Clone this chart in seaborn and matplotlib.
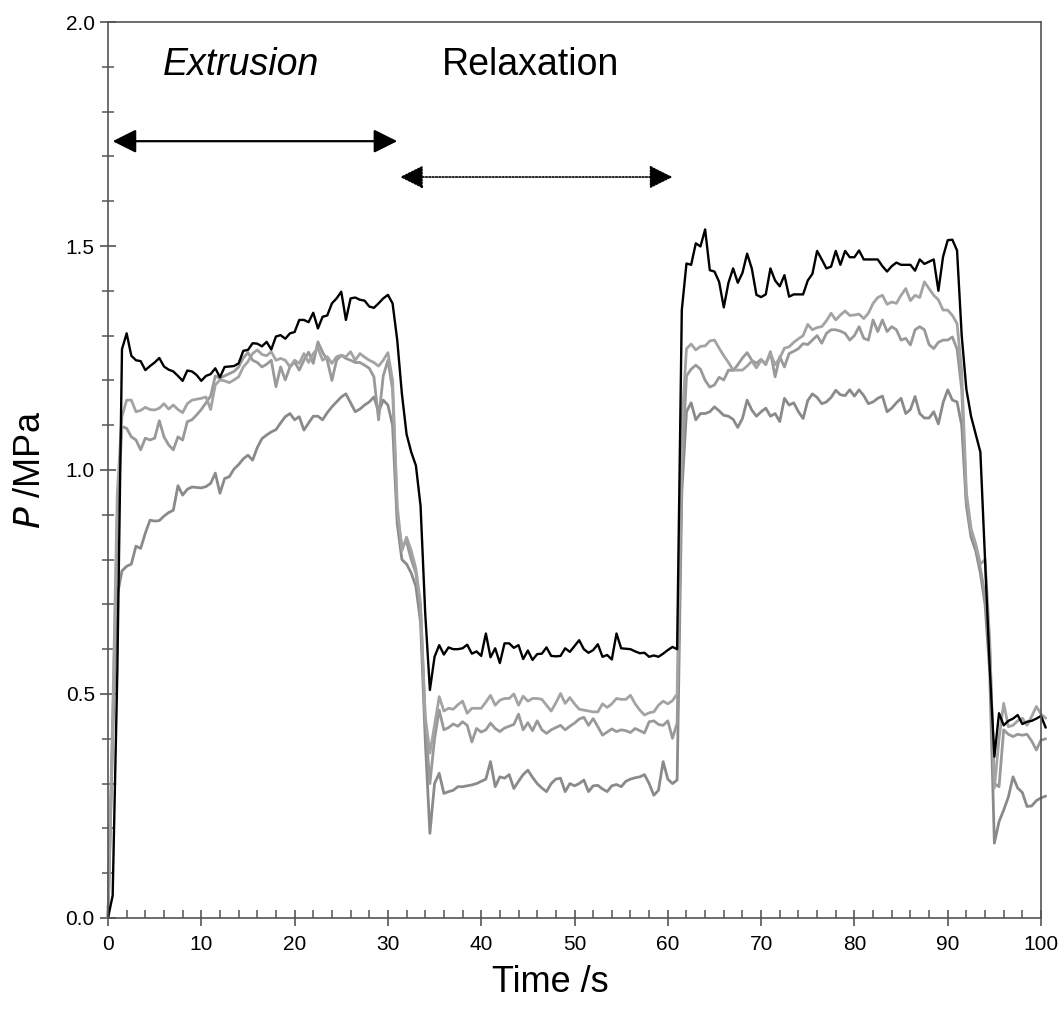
import numpy as np
import pandas as pd
import matplotlib
matplotlib.use('Agg')
import matplotlib.pyplot as plt
import seaborn as sns
from matplotlib.ticker import MultipleLocator, FormatStrFormatter

# time axis, sampled every 0.5 s
time_s = np.arange(202) * 0.5

# black trace
p_black = [
    0.00, 0.05, 0.55, 1.27, 1.305, 1.255, 1.245, 1.243, 1.223, 1.232, 1.24, 1.25, 1.231, 1.224, 1.22, 1.21, 1.199, 1.222, 1.22, 1.212,
    1.199, 1.21, 1.214, 1.227, 1.207, 1.23, 1.231, 1.232, 1.238, 1.266, 1.268, 1.283, 1.282, 1.276, 1.286, 1.269, 1.298, 1.301, 1.293, 1.305,
    1.308, 1.335, 1.335, 1.33, 1.351, 1.316, 1.342, 1.345, 1.372, 1.383, 1.398, 1.335, 1.383, 1.385, 1.38, 1.378, 1.365, 1.362, 1.372, 1.383,
    1.391, 1.372, 1.29, 1.17, 1.08, 1.04, 1.01, 0.92, 0.68, 0.509, 0.583, 0.609, 0.588, 0.604, 0.6, 0.6, 0.602, 0.61, 0.59, 0.595,
    0.585, 0.635, 0.582, 0.602, 0.569, 0.613, 0.613, 0.603, 0.609, 0.578, 0.597, 0.576, 0.589, 0.59, 0.604, 0.585, 0.584, 0.585, 0.602, 0.594,
    0.607, 0.62, 0.6, 0.592, 0.598, 0.611, 0.583, 0.587, 0.577, 0.635, 0.602, 0.601, 0.6, 0.595, 0.591, 0.592, 0.583, 0.586, 0.583, 0.59,
    0.598, 0.605, 0.6, 1.357, 1.461, 1.458, 1.506, 1.499, 1.537, 1.446, 1.443, 1.42, 1.363, 1.418, 1.45, 1.418, 1.44, 1.483, 1.45, 1.391,
    1.386, 1.392, 1.45, 1.423, 1.41, 1.435, 1.387, 1.392, 1.392, 1.392, 1.423, 1.438, 1.489, 1.47, 1.45, 1.454, 1.489, 1.458, 1.489, 1.475,
    1.475, 1.49, 1.47, 1.47, 1.47, 1.47, 1.455, 1.443, 1.455, 1.463, 1.458, 1.458, 1.458, 1.445, 1.47, 1.46, 1.465, 1.47, 1.40, 1.476,
    1.513, 1.514, 1.49, 1.30, 1.18, 1.12, 1.08, 1.04, 0.80, 0.56, 0.36, 0.457, 0.43, 0.44, 0.445, 0.453, 0.433, 0.438, 0.44, 0.445,
    0.451, 0.425,
]

# light grey trace (upper grey)
p_grey_a = [
    0.0, 0.45, 0.95, 1.12, 1.156, 1.156, 1.13, 1.133, 1.14, 1.135, 1.134, 1.138, 1.148, 1.136, 1.145, 1.135, 1.128, 1.148, 1.156, 1.158,
    1.16, 1.163, 1.135, 1.19, 1.201, 1.199, 1.195, 1.201, 1.208, 1.23, 1.242, 1.26, 1.268, 1.258, 1.255, 1.264, 1.245, 1.249, 1.245, 1.23,
    1.245, 1.238, 1.26, 1.24, 1.26, 1.272, 1.245, 1.253, 1.238, 1.253, 1.256, 1.253, 1.264, 1.245, 1.26, 1.252, 1.245, 1.24, 1.232, 1.245,
    1.262, 1.20, 0.92, 0.82, 0.85, 0.82, 0.78, 0.70, 0.45, 0.368, 0.43, 0.494, 0.462, 0.468, 0.466, 0.476, 0.484, 0.457, 0.468, 0.468,
    0.468, 0.482, 0.497, 0.475, 0.486, 0.49, 0.49, 0.50, 0.475, 0.495, 0.484, 0.49, 0.49, 0.488, 0.475, 0.462, 0.48, 0.501, 0.479, 0.492,
    0.478, 0.466, 0.464, 0.462, 0.46, 0.46, 0.478, 0.47, 0.478, 0.49, 0.488, 0.488, 0.497, 0.478, 0.464, 0.453, 0.458, 0.46, 0.475, 0.484,
    0.478, 0.485, 0.50, 1.10, 1.271, 1.281, 1.268, 1.276, 1.277, 1.288, 1.29, 1.272, 1.255, 1.24, 1.223, 1.223, 1.223, 1.232, 1.243, 1.228,
    1.245, 1.238, 1.26, 1.235, 1.25, 1.272, 1.275, 1.285, 1.293, 1.30, 1.325, 1.313, 1.318, 1.32, 1.333, 1.35, 1.335, 1.346, 1.355, 1.345,
    1.346, 1.348, 1.338, 1.35, 1.372, 1.385, 1.39, 1.37, 1.375, 1.372, 1.39, 1.405, 1.378, 1.39, 1.385, 1.42, 1.405, 1.39, 1.38, 1.357,
    1.357, 1.345, 1.327, 1.22, 0.95, 0.87, 0.835, 0.79, 0.80, 0.62, 0.29, 0.40, 0.479, 0.427, 0.43, 0.44, 0.446, 0.43, 0.45, 0.472,
    0.455, 0.446,
]

# mid grey trace
p_grey_b = [
    0.0, 0.42, 0.90, 1.097, 1.093, 1.074, 1.067, 1.045, 1.071, 1.067, 1.071, 1.11, 1.074, 1.056, 1.045, 1.074, 1.067, 1.108, 1.112, 1.123,
    1.135, 1.15, 1.165, 1.21, 1.205, 1.21, 1.215, 1.22, 1.23, 1.25, 1.262, 1.245, 1.24, 1.23, 1.236, 1.245, 1.186, 1.23, 1.201, 1.23,
    1.241, 1.223, 1.245, 1.263, 1.238, 1.286, 1.263, 1.245, 1.20, 1.245, 1.256, 1.249, 1.245, 1.24, 1.24, 1.234, 1.227, 1.208, 1.112, 1.21,
    1.245, 1.18, 0.90, 0.83, 0.84, 0.80, 0.77, 0.69, 0.44, 0.30, 0.40, 0.464, 0.42, 0.425, 0.433, 0.428, 0.438, 0.43, 0.393, 0.423,
    0.415, 0.42, 0.435, 0.423, 0.416, 0.424, 0.428, 0.432, 0.455, 0.42, 0.436, 0.418, 0.44, 0.42, 0.412, 0.42, 0.425, 0.43, 0.42, 0.428,
    0.435, 0.444, 0.448, 0.43, 0.445, 0.427, 0.408, 0.415, 0.422, 0.416, 0.42, 0.418, 0.414, 0.423, 0.418, 0.413, 0.438, 0.44, 0.432, 0.43,
    0.44, 0.401, 0.435, 1.00, 1.21, 1.225, 1.234, 1.225, 1.20, 1.185, 1.19, 1.207, 1.201, 1.223, 1.222, 1.235, 1.25, 1.262, 1.245, 1.238,
    1.247, 1.235, 1.264, 1.208, 1.253, 1.23, 1.26, 1.265, 1.271, 1.282, 1.28, 1.29, 1.30, 1.283, 1.305, 1.313, 1.313, 1.31, 1.305, 1.29,
    1.30, 1.32, 1.294, 1.29, 1.335, 1.309, 1.335, 1.309, 1.32, 1.313, 1.29, 1.294, 1.279, 1.313, 1.32, 1.313, 1.28, 1.271, 1.285, 1.29,
    1.29, 1.297, 1.27, 1.18, 0.93, 0.86, 0.83, 0.78, 0.72, 0.60, 0.30, 0.293, 0.42, 0.41, 0.405, 0.41, 0.408, 0.41, 0.395, 0.375,
    0.397, 0.40,
]

# darker grey trace (lowest)
p_grey_c = [
    0.0, 0.40, 0.72, 0.775, 0.785, 0.79, 0.83, 0.825, 0.859, 0.888, 0.886, 0.887, 0.897, 0.905, 0.91, 0.965, 0.944, 0.957, 0.962, 0.961,
    0.96, 0.963, 0.97, 0.993, 0.948, 0.981, 0.985, 1.002, 1.012, 1.025, 1.033, 1.022, 1.05, 1.07, 1.078, 1.085, 1.09, 1.105, 1.119, 1.126,
    1.112, 1.119, 1.089, 1.105, 1.12, 1.12, 1.112, 1.128, 1.141, 1.152, 1.163, 1.17, 1.15, 1.13, 1.136, 1.145, 1.152, 1.163, 1.13, 1.156,
    1.145, 1.10, 0.88, 0.80, 0.79, 0.77, 0.74, 0.66, 0.40, 0.189, 0.30, 0.323, 0.278, 0.282, 0.285, 0.293, 0.293, 0.295, 0.297, 0.30,
    0.305, 0.31, 0.349, 0.293, 0.315, 0.312, 0.32, 0.289, 0.305, 0.32, 0.33, 0.314, 0.30, 0.29, 0.282, 0.30, 0.31, 0.312, 0.282, 0.30,
    0.295, 0.30, 0.308, 0.282, 0.295, 0.296, 0.288, 0.282, 0.295, 0.298, 0.293, 0.305, 0.31, 0.313, 0.315, 0.32, 0.30, 0.274, 0.285, 0.349,
    0.31, 0.30, 0.308, 0.95, 1.13, 1.15, 1.112, 1.126, 1.126, 1.13, 1.141, 1.132, 1.122, 1.12, 1.113, 1.095, 1.115, 1.156, 1.134, 1.12,
    1.13, 1.138, 1.12, 1.126, 1.108, 1.16, 1.145, 1.15, 1.13, 1.115, 1.155, 1.17, 1.162, 1.148, 1.152, 1.162, 1.178, 1.168, 1.166, 1.179,
    1.165, 1.179, 1.166, 1.148, 1.152, 1.16, 1.165, 1.13, 1.138, 1.15, 1.16, 1.126, 1.135, 1.164, 1.126, 1.116, 1.116, 1.13, 1.103, 1.15,
    1.179, 1.156, 1.152, 1.10, 0.92, 0.85, 0.82, 0.77, 0.70, 0.55, 0.167, 0.215, 0.241, 0.27, 0.315, 0.29, 0.28, 0.249, 0.25, 0.262,
    0.268, 0.272,
]

series = [
    ('c', p_grey_c, '#8a8a8a', 2.0),
    ('b', p_grey_b, '#999999', 2.0),
    ('a', p_grey_a, '#a3a3a3', 2.0),
    ('black', p_black, '#000000', 1.7),
]

sns.set_style('ticks')
plt.rcParams['font.family'] = ['Liberation Sans', 'DejaVu Sans']

fig = plt.figure(figsize=(10.64, 10.15), dpi=100)
ax = fig.add_axes([0.1015, 0.0956, 0.8769, 0.8827])

for name, vals, col, lw in series:
    df = pd.DataFrame({'time': time_s, 'P': vals})
    sns.lineplot(data=df, x='time', y='P', color=col, linewidth=lw,
                 estimator=None, sort=False, ax=ax)

for ln in ax.lines:
    ln.set_clip_on(False)

ax.set_xlim(0, 100)
ax.set_ylim(0, 2.0)
ax.xaxis.set_major_locator(MultipleLocator(10))
ax.xaxis.set_minor_locator(MultipleLocator(2))
ax.yaxis.set_major_locator(MultipleLocator(0.5))
ax.yaxis.set_minor_locator(MultipleLocator(0.1))
ax.yaxis.set_major_formatter(FormatStrFormatter('%.1f'))

for s in ax.spines.values():
    s.set_color('#555555')
    s.set_linewidth(1.2)

ax.tick_params(which='major', direction='inout', length=12, width=1.2,
               color='#555555', labelsize=15, labelcolor='black')
ax.tick_params(axis='x', which='major', pad=6)
ax.tick_params(axis='x', which='minor', direction='in', length=6, width=1.1, color='#555555')
ax.tick_params(axis='y', which='minor', direction='inout', length=9, width=1.1, color='#555555')

ax.set_xlabel('Time /s', fontsize=26, color='black')
ax.set_ylabel('$\\it{P}$ /MPa', fontsize=26, color='black')
ax.xaxis.set_label_coords(0.474, -0.053)
ax.yaxis.set_label_coords(-0.064, 0.5)

# phase labels and arrows
ax.text(14.3, 1.904, 'Extrusion', fontsize=27, style='italic', ha='center', va='center', color='black')
ax.text(45.3, 1.904, 'Relaxation', fontsize=27, ha='center', va='center', color='black')
ax.annotate('', xy=(0.5, 1.734), xytext=(31.0, 1.734),
            arrowprops=dict(arrowstyle='<|-|>,head_length=0.8,head_width=0.4',
                            color='black', lw=1.6, mutation_scale=18,
                            shrinkA=0, shrinkB=0))
ax.annotate('', xy=(31.3, 1.654), xytext=(60.5, 1.654),
            arrowprops=dict(arrowstyle='<|-|>,head_length=0.8,head_width=0.4',
                            color='black', lw=1.2, linestyle=(0, (1, 1)),
                            mutation_scale=18, shrinkA=0, shrinkB=0))

fig.savefig('out.png', dpi=100)
